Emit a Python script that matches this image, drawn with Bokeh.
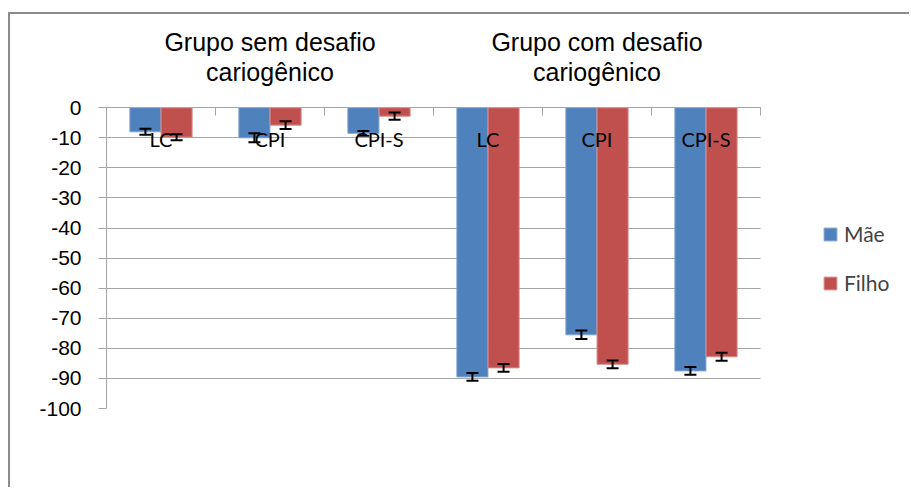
from bokeh.plotting import figure
from bokeh.models import ColumnDataSource, FixedTicker, Whisker, TeeHead, Legend, LegendItem
from bokeh.core.properties import value
from bokeh.embed import file_html
from bokeh.resources import INLINE

# ---- data -------------------------------------------------------------
categories = ["LC", "CPI", "CPI-S", "LC", "CPI", "CPI-S"]
group_titles = ["Grupo sem desafio\ncariogênico", "Grupo com desafio\ncariogênico"]
series = ["Mãe", "Filho"]
mae = [-8.0, -10.0, -8.5, -89.5, -75.5, -87.5]
filho = [-9.8, -5.8, -2.8, -86.5, -85.3, -82.8]
mae_err = [1.0, 1.5, 0.8, 1.3, 1.4, 1.3]
filho_err = [1.0, 1.3, 1.2, 1.3, 1.3, 1.3]
y_ticks = [-100, -90, -80, -70, -60, -50, -40, -30, -20, -10, 0]
y_tick_labels = ["-100", "-90", "-80", "-70", "-60", "-50", "-40", "-30", "-20", "-10", "0"]

# ---- style ------------------------------------------------------------
BLUE = "#4F81BD"
RED = "#C0504D"
GRID = "#a6a6a6"
n = len(categories)
centers = [i + 0.5 for i in range(n)]
dodge = 0.143
bw = 0.285
W, H = 901, 475
LEFT = 96
PLOT_W = 654
x_end = n * (W - LEFT) / PLOT_W  # room on the right for the legend

src_m = ColumnDataSource(dict(
    x=[c - dodge for c in centers], top=mae,
    upper=[v + e for v, e in zip(mae, mae_err)],
    lower=[v - e for v, e in zip(mae, mae_err)]))
src_f = ColumnDataSource(dict(
    x=[c + dodge for c in centers], top=filho,
    upper=[v + e for v, e in zip(filho, filho_err)],
    lower=[v - e for v, e in zip(filho, filho_err)]))

p = figure(width=W, height=H, x_range=(0, x_end), y_range=(-100, 28),
           output_backend="svg", toolbar_location=None, title_location=None,
           min_border_left=LEFT, min_border_right=0, min_border_top=9,
           min_border_bottom=81)
p.styles = {"border-left": "2px solid #8c8c8c", "border-top": "2px solid #8c8c8c",
            "margin-top": "12px", "margin-left": "8px"}
p.outline_line_color = None
p.background_fill_color = "white"
p.border_fill_color = "white"

p.xgrid.visible = False
p.ygrid.grid_line_color = GRID
p.ygrid.grid_line_width = 1
p.ygrid.cross_bounds = (0, n)

r_m = p.vbar(x="x", top="top", bottom=0, width=bw, source=src_m,
             fill_color=BLUE, line_color="#7FA2CF", line_width=1)
r_f = p.vbar(x="x", top="top", bottom=0, width=bw, source=src_f,
             fill_color=RED, line_color="#D98C8A", line_width=1)

for src in (src_m, src_f):
    w = Whisker(base="x", upper="upper", lower="lower", source=src,
                line_color="black", line_width=2, level="annotation",
                upper_head=TeeHead(size=12, line_color="black", line_width=2),
                lower_head=TeeHead(size=12, line_color="black", line_width=2))
    p.add_layout(w)

# group titles
gcent = [n / 4, 3 * n / 4]
p.text(x=gcent, y=[16.8, 16.8], text=group_titles,
       text_font=value("Liberation Sans"), text_font_size="25px",
       text_align="center", text_baseline="middle", text_line_height=1.08,
       text_color="black")

# x axis at y=0
xa = p.xaxis[0]
xa.fixed_location = 0
xa.bounds = (0, n)
xa.ticker = FixedTicker(ticks=centers, minor_ticks=list(range(n + 1)))
xa.major_label_overrides = {c: lab for c, lab in zip(centers, categories)}
xa.major_tick_out = 0
xa.major_tick_in = 0
xa.minor_tick_out = 8
xa.minor_tick_in = 0
xa.minor_tick_line_color = GRID
xa.axis_line_color = GRID
xa.major_label_standoff = 11
xa.major_label_text_font = "Lato"
xa.major_label_text_font_size = "20px"
xa.major_label_text_color = "black"

# y axis
ya = p.yaxis[0]
ya.ticker = FixedTicker(ticks=y_ticks)
ya.major_label_overrides = {t: s for t, s in zip(y_ticks, y_tick_labels)}
ya.bounds = (-100, 0)
ya.axis_line_color = GRID
ya.major_tick_line_color = GRID
ya.major_tick_out = 8
ya.major_tick_in = 0
ya.minor_tick_out = 0
ya.minor_tick_in = 0
ya.major_label_standoff = 17
ya.major_label_text_font = "Liberation Sans"
ya.major_label_text_font_size = "21px"
ya.major_label_text_color = "black"

legend = Legend(items=[LegendItem(label=series[0], renderers=[r_m]),
                       LegendItem(label=series[1], renderers=[r_f])],
                location=(716, 113), glyph_width=16, glyph_height=16,
                label_text_font="Lato", label_text_font_size="21px",
                label_standoff=6, spacing=24, padding=0, margin=0,
                label_height=25, border_line_color=None,
                background_fill_alpha=0)
p.add_layout(legend, "center")

open("out.html", "w").write(file_html(p, INLINE))
